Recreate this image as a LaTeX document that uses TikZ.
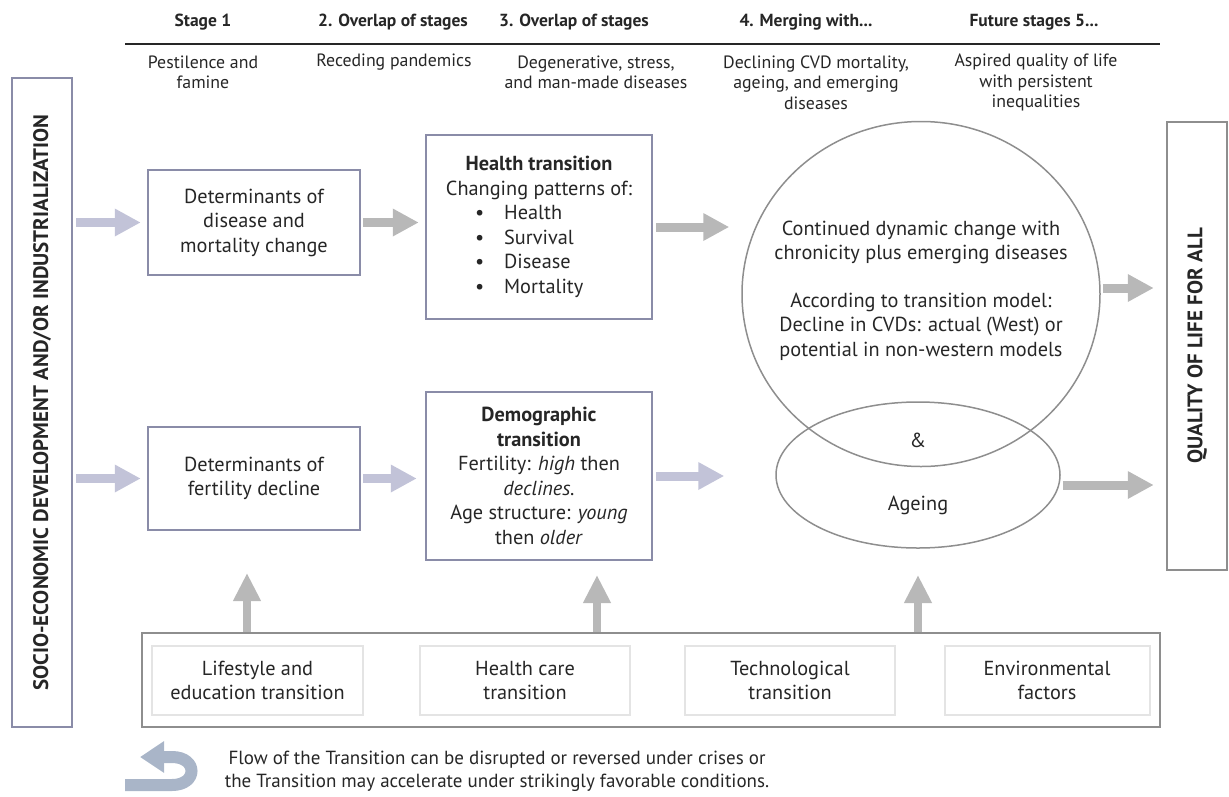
\documentclass[tikz,border=0pt]{standalone}
\usepackage{fontspec}
\setmainfont{PT Sans}
\usetikzlibrary{arrows.meta,shapes.geometric}

\definecolor{ink}{HTML}{262626}
\definecolor{lavline}{HTML}{8A8CA8}
\definecolor{lavarrow}{HTML}{C2C3D8}
\definecolor{grayline}{HTML}{8E8E8E}
\definecolor{grayarrow}{HTML}{B8B8B8}
\definecolor{subline}{HTML}{E4E4E4}
\definecolor{uturn}{HTML}{A9B5C8}

\tikzset{
	hdtext/.style={font=\fontsize{17.5}{20}\selectfont\bfseries, text=ink, align=center},
	subtext/.style={font=\fontsize{17.8}{20.5}\selectfont, text=ink, align=center},
	boxtext/.style={font=\fontsize{20.3}{24.5}\selectfont, text=ink, align=center},
	detbox/.style={boxtext, draw=lavline, line width=2.5pt, fill=white, inner sep=0pt},
	sidebar/.style={draw=#1, line width=2.5pt, inner sep=0pt, text=ink,
		font=\fontsize{21}{24}\selectfont\bfseries},
	subbox/.style={boxtext, draw=subline, line width=2pt, inner sep=0pt, minimum height=69pt},
	lavarr/.style={draw=lavarrow, line width=9pt, -{Triangle[length=26pt,width=26pt]}},
	grayarr/.style={draw=grayarrow, line width=9pt, -{Triangle[length=26pt,width=26pt]}},
	uparr/.style={draw=grayarrow, line width=8pt, -{Triangle[length=28pt,width=26pt]}}
}

\begin{document}
\begin{tikzpicture}[x=1pt,y=-1pt]
		\useasboundingbox (0,0) rectangle (1229,796);
		% stage headings
		\foreach \x/\t [count=\i] in {203/{Stage 1}, 393/{2. Overlap of stages}, 574/{3. Overlap of stages}, 806/{4. Merging with...}, 1034/{Future stages 5...}}
		{
			\node[hdtext] (hd\i) at (\x,22) {\t};
		}
		\draw[line width=2pt, ink] (125,44) -- (1160,44);
		% what each stage brings
		\foreach \x/\y/\t [count=\i] in {203/72.5/{Pestilence and\\famine}, 394/62/{Receding pandemics}, 596/72.5/{Degenerative, stress,\\and man-made diseases}, 816/82.5/{Declining CVD mortality,\\ageing, and emerging\\diseases}, 1036/82.5/{Aspired quality of life\\with persistent\\inequalities}}
		{
			\node[subtext] (sub\i) at (\x,\y) {\t};
		}
		% side bars
		\node[sidebar=lavline, minimum width=60pt, minimum height=649pt] (socio) at (42,402.5)
			{\rotatebox{90}{SOCIO-ECONOMIC DEVELOPMENT AND/OR INDUSTRIALIZATION}};
		\node[sidebar=grayline, minimum width=60pt, minimum height=448pt] (quality) at (1197,346)
			{\rotatebox{90}{QUALITY OF LIFE FOR ALL}};
		% determinants
		\node[detbox, minimum width=212pt, minimum height=105pt] (dis) at (254,222.5)
			{Determinants of\\disease and\\mortality change};
		\node[detbox, minimum width=212pt, minimum height=103pt] (fert) at (254,478.5)
			{Determinants of\\fertility decline};
		% the two transitions
		\node[detbox, minimum width=226pt, minimum height=184pt] (health) at (539,227)
			{\textbf{Health transition}\\Changing patterns of:\\
			\makebox[128pt][l]{\textbullet\hspace{20pt}Health}\\
			\makebox[128pt][l]{\textbullet\hspace{20pt}Survival}\\
			\makebox[128pt][l]{\textbullet\hspace{20pt}Disease}\\
			\makebox[128pt][l]{\textbullet\hspace{20pt}Mortality}};
		\node[detbox, minimum width=226pt, minimum height=168pt] (demo) at (539,476)
			{\textbf{Demographic}\\\textbf{transition}\\Fertility: \textit{high} then\\\textit{declines.}\\
			Age structure: \textit{young}\\then \textit{older}};
		% overlapping outcomes
		\node[ellipse, draw=grayline, line width=1.5pt, minimum width=358pt, minimum height=345pt, inner sep=0pt] (circ) at (921,294) {};
		\node[ellipse, draw=grayline, line width=1.5pt, minimum width=284pt, minimum height=146pt, inner sep=0pt] (age) at (918,475) {};
		\node[boxtext] (circtext) at (921,290.5)
			{Continued dynamic change with\\chronicity plus emerging diseases\\[23pt]
			According to transition model:\\Decline in CVDs: actual (West) or\\potential in non-western models};
		\node[boxtext] (amp) at (918,440) {\&};
		\node[boxtext] (agetext) at (918,505) {Ageing};
		% underlying transitions
		\node[draw=grayline, line width=2.5pt, minimum width=1018pt, minimum height=94pt] (base) at (651,680) {};
		\foreach \x/\w/\t [count=\i] in {257.5/211/{Lifestyle and\\education transition}, 525/210/{Health care\\transition}, 790/210/{Technological\\transition}, 1047/205/{Environmental\\factors}}
		{
			\node[subbox, minimum width=\w pt] (part\i) at (\x,680.5) {\t};
		}
		% flow arrows
		\draw[lavarr, shorten <=3pt, shorten >=6pt] (socio.east |- dis) -- (dis.west);
		\draw[lavarr, shorten <=3pt, shorten >=6pt] (socio.east |- fert) -- (fert.west);
		\draw[grayarr, shorten <=2pt, shorten >=6pt] (dis.east) -- (dis.east -| health.west);
		\draw[lavarr, shorten <=2pt, shorten >=8pt] (fert.east) -- (fert.east -| demo.west);
		\draw[grayarr, shorten <=3pt, shorten >=12pt] (health.east) -- (health.east -| circ.west);
		\draw[lavarr, shorten <=3pt, shorten >=51pt] (demo.east) -- (demo.east -| age.west);
		\draw[grayarr, shorten <=2pt, shorten >=12pt] ([yshift=6pt]circ.east) -- ([yshift=6pt]circ.east -| quality.west);
		\draw[grayarr, shorten <=2pt, shorten >=12pt] ([yshift=-10pt]age.east) -- ([yshift=-10pt]age.east -| quality.west);
		% arrows up from the underlying transitions
		\foreach \x/\y [count=\i] in {247/573, 597/575, 918/575}
		{
			\coordinate (tip\i) at (\x,\y);
			\draw[uparr] (base.north -| tip\i) -- (tip\i);
		}
		% reversal note
		\draw[draw=uturn, line width=12pt, -{Triangle[length=24pt,width=30pt]}]
			(125,785) -- (172,785) .. controls (198,785) and (198,757) .. (172,757) -- (140,757);
		\node[subtext, font=\fontsize{19}{23}\selectfont] (note) at (497,771.5)
			{Flow of the Transition can be disrupted or reversed under crises or\\
			the Transition may accelerate under strikingly favorable conditions.};
	\end{tikzpicture}
\end{document}
